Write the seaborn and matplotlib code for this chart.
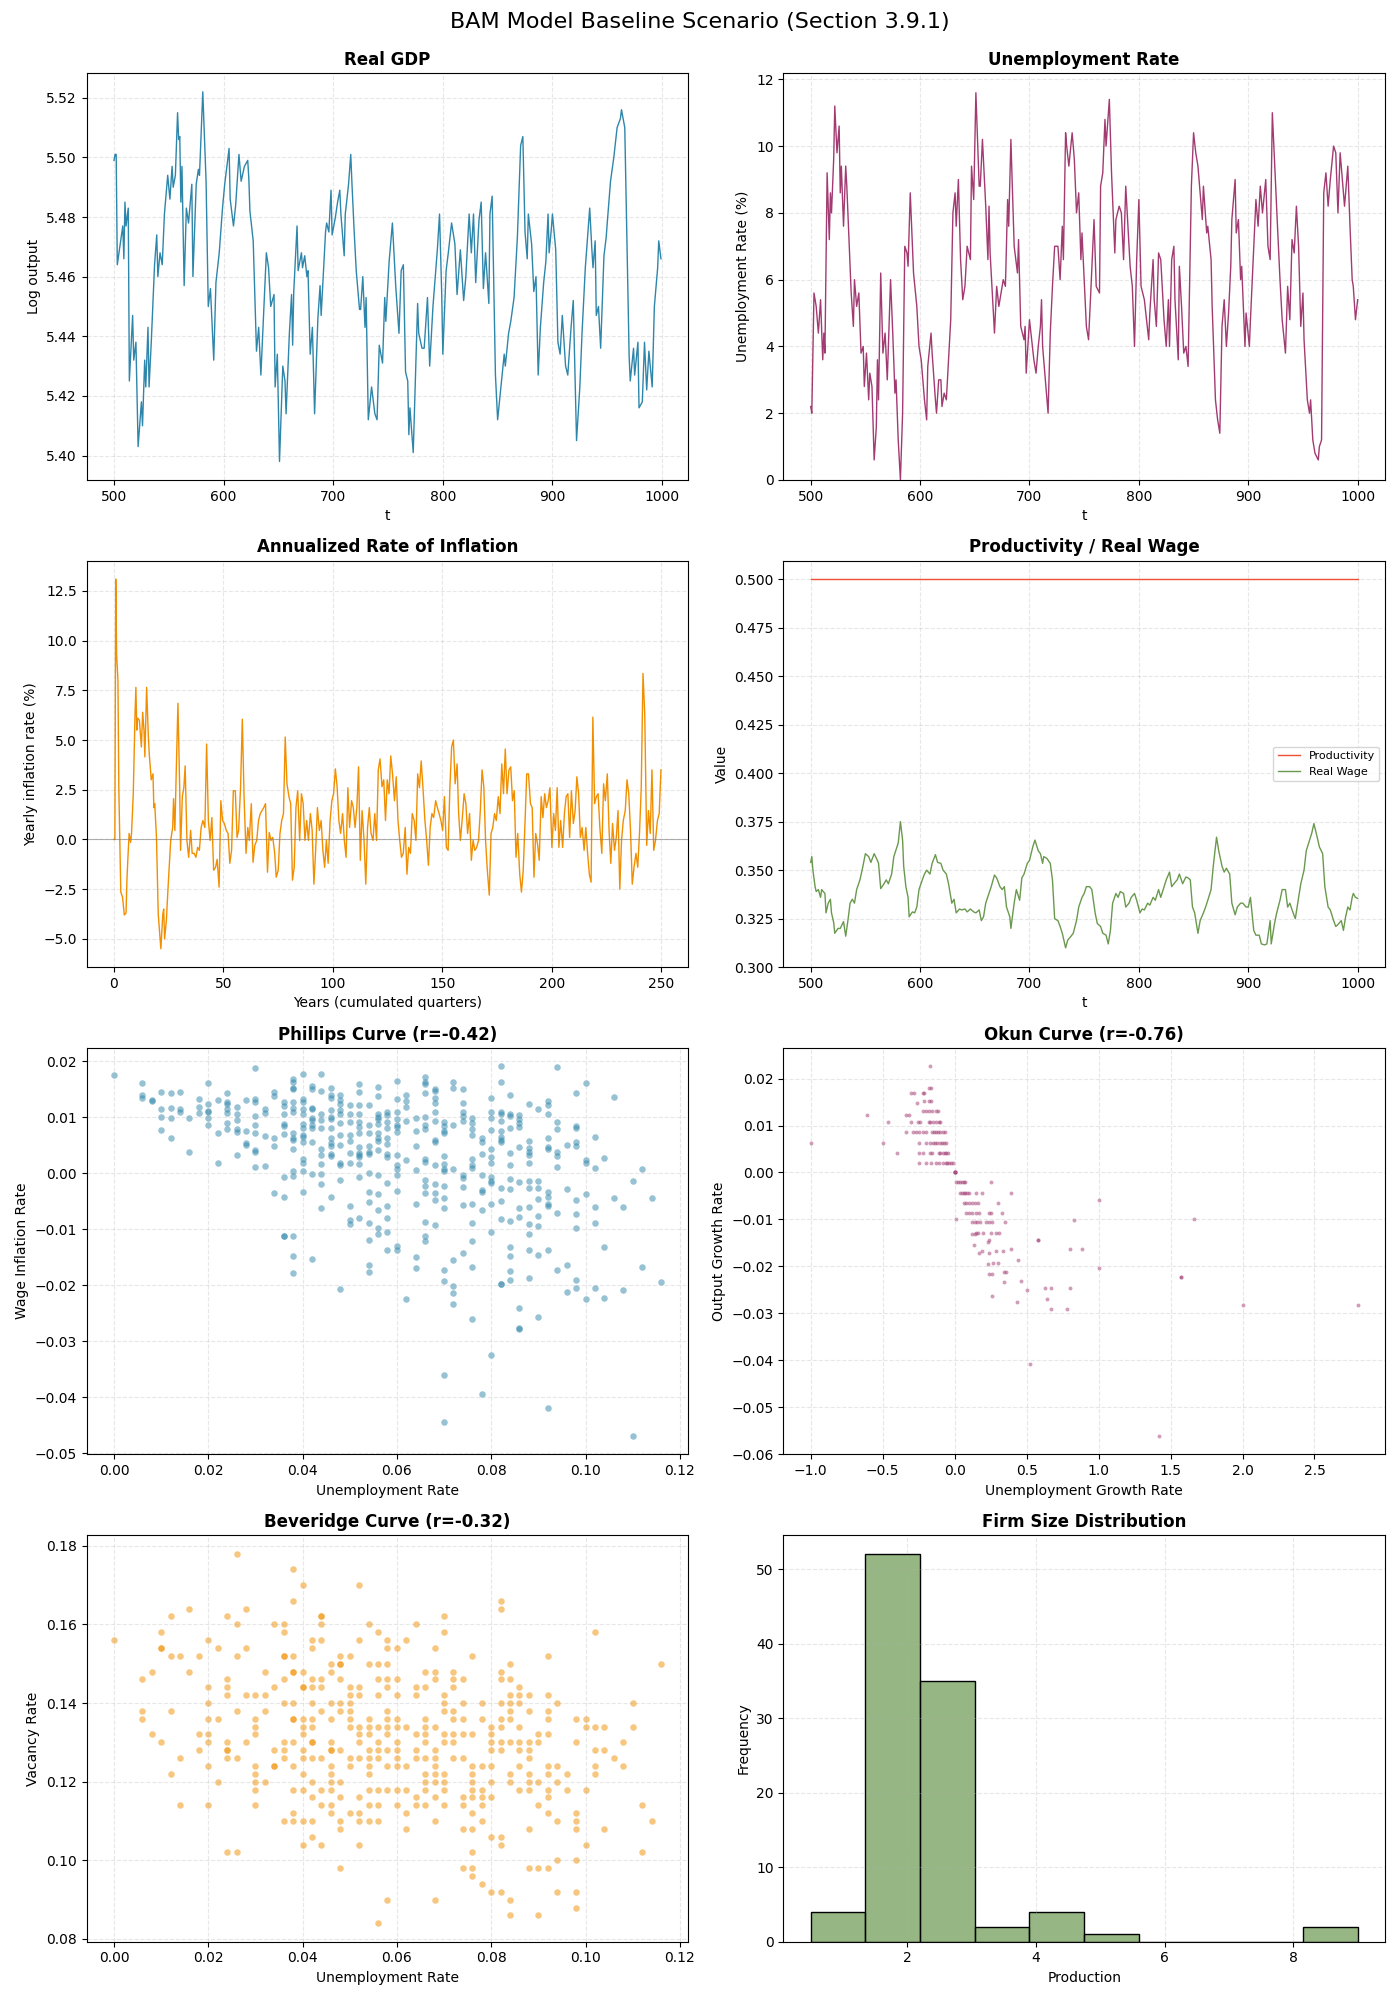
import numpy as np
import matplotlib
matplotlib.use('Agg')
import matplotlib.pyplot as plt
import seaborn as sns

# Colours used across the panels
gdp_color = '#2E86AB'
unemp_color = '#A23B72'
infl_color = '#F18F01'
prod_color = '#F04E33'
wage_color = '#6A994E'

# ---------------- Real GDP (log output), turning points
gdp_t = [500, 501, 502, 503, 508, 509, 510, 511, 513, 514,
         517, 518, 520, 522, 525, 526, 528, 529, 531, 532,
         534, 537, 539, 540, 542, 544, 546, 549, 551, 553,
         554, 556, 558, 559, 560, 561, 562, 564, 566, 568,
         571, 572, 575, 577, 578, 581, 584, 586, 588, 591,
         593, 596, 599, 601, 605, 606, 609, 611, 614, 616,
         619, 622, 623, 624, 627, 630, 632, 634, 639, 641,
         643, 646, 647, 649, 651, 654, 656, 657, 660, 662,
         663, 664, 667, 668, 671, 672, 674, 676, 677, 679,
         681, 683, 686, 688, 689, 693, 694, 696, 698, 699,
         702, 704, 706, 707, 710, 711, 714, 716, 717, 719,
         721, 724, 725, 727, 729, 730, 732, 735, 738, 740,
         742, 745, 747, 748, 751, 754, 757, 760, 762, 764,
         766, 768, 769, 770, 773, 777, 778, 781, 783, 786,
         788, 791, 795, 797, 799, 800, 803, 805, 808, 811,
         813, 816, 819, 821, 824, 826, 828, 830, 833, 835,
         837, 839, 842, 843, 845, 848, 850, 853, 856, 857,
         860, 862, 865, 868, 871, 873, 875, 877, 878, 881,
         883, 885, 887, 889, 892, 894, 896, 897, 899, 900,
         903, 905, 907, 909, 912, 914, 917, 919, 922, 925,
         927, 930, 932, 934, 936, 937, 939, 940, 942, 944,
         947, 949, 950, 953, 956, 959, 962, 963, 965, 966,
         970, 971, 974, 975, 978, 979, 982, 984, 986, 988,
         991, 993, 996, 997, 999]
gdp_log = [5.499, 5.501, 5.501, 5.464, 5.477, 5.466, 5.485, 5.477, 5.483, 5.425,
           5.447, 5.432, 5.438, 5.403, 5.418, 5.410, 5.432, 5.423, 5.443, 5.423,
           5.438, 5.464, 5.474, 5.460, 5.468, 5.464, 5.481, 5.494, 5.486, 5.497,
           5.490, 5.494, 5.515, 5.506, 5.507, 5.485, 5.497, 5.457, 5.483, 5.478,
           5.491, 5.460, 5.491, 5.496, 5.494, 5.522, 5.492, 5.450, 5.456, 5.432,
           5.458, 5.468, 5.483, 5.491, 5.503, 5.486, 5.477, 5.484, 5.501, 5.492,
           5.497, 5.499, 5.493, 5.482, 5.472, 5.435, 5.443, 5.427, 5.468, 5.463,
           5.450, 5.454, 5.423, 5.434, 5.398, 5.430, 5.425, 5.414, 5.441, 5.454,
           5.437, 5.455, 5.477, 5.462, 5.468, 5.463, 5.467, 5.460, 5.462, 5.434,
           5.443, 5.414, 5.446, 5.457, 5.447, 5.475, 5.478, 5.475, 5.489, 5.474,
           5.480, 5.485, 5.489, 5.481, 5.467, 5.481, 5.491, 5.501, 5.492, 5.476,
           5.462, 5.449, 5.449, 5.460, 5.443, 5.453, 5.412, 5.423, 5.414, 5.412,
           5.437, 5.431, 5.453, 5.445, 5.465, 5.478, 5.457, 5.441, 5.462, 5.464,
           5.428, 5.425, 5.407, 5.416, 5.401, 5.451, 5.441, 5.436, 5.436, 5.453,
           5.430, 5.450, 5.469, 5.481, 5.454, 5.434, 5.462, 5.468, 5.478, 5.471,
           5.454, 5.469, 5.452, 5.460, 5.481, 5.468, 5.481, 5.458, 5.479, 5.485,
           5.456, 5.468, 5.451, 5.481, 5.487, 5.427, 5.412, 5.423, 5.434, 5.430,
           5.441, 5.445, 5.453, 5.473, 5.504, 5.507, 5.475, 5.466, 5.481, 5.471,
           5.455, 5.460, 5.427, 5.443, 5.458, 5.465, 5.481, 5.468, 5.476, 5.481,
           5.469, 5.438, 5.434, 5.447, 5.430, 5.427, 5.443, 5.452, 5.405, 5.423,
           5.441, 5.463, 5.473, 5.483, 5.469, 5.463, 5.472, 5.447, 5.450, 5.436,
           5.467, 5.473, 5.478, 5.492, 5.500, 5.510, 5.513, 5.516, 5.512, 5.510,
           5.433, 5.425, 5.436, 5.427, 5.438, 5.416, 5.418, 5.438, 5.422, 5.435,
           5.423, 5.450, 5.463, 5.472, 5.466]

# ---------------- Unemployment rate (%)
unemp_t = [500, 501, 503, 505, 507, 509, 511, 512, 513, 515,
           517, 518, 519, 521, 522, 524, 526, 527, 528, 530,
           532, 533, 537, 539, 540, 542, 544, 546, 548, 549,
           551, 553, 554, 556, 558, 560, 561, 562, 564, 566,
           568, 570, 573, 575, 577, 578, 580, 582, 584, 586,
           588, 589, 591, 593, 594, 597, 599, 601, 602, 604,
           606, 607, 610, 611, 614, 615, 617, 619, 620, 622,
           624, 626, 628, 630, 632, 633, 635, 637, 639, 641,
           643, 646, 647, 649, 651, 654, 655, 657, 660, 662,
           663, 664, 668, 670, 672, 674, 676, 678, 680, 681,
           683, 686, 689, 690, 692, 695, 696, 697, 700, 704,
           706, 708, 710, 711, 712, 715, 717, 719, 721, 723,
           726, 728, 730, 731, 733, 734, 736, 739, 741, 743,
           745, 747, 748, 752, 754, 756, 759, 761, 764, 765,
           767, 769, 770, 773, 775, 778, 779, 782, 784, 786,
           788, 790, 792, 794, 796, 798, 800, 802, 805, 807,
           809, 810, 813, 814, 816, 818, 820, 823, 825, 827,
           828, 830, 832, 833, 836, 837, 839, 841, 843, 845,
           848, 850, 852, 854, 856, 858, 859, 862, 863, 866,
           867, 870, 872, 874, 876, 878, 880, 882, 884, 885,
           888, 889, 891, 893, 894, 897, 898, 901, 902, 905,
           907, 909, 911, 913, 916, 918, 920, 922, 925, 927,
           929, 931, 934, 936, 938, 940, 942, 944, 946, 948,
           950, 951, 954, 956, 957, 959, 961, 964, 965, 967,
           969, 971, 973, 975, 978, 980, 982, 984, 987, 988,
           991, 993, 995, 996, 998, 1000]
unemp_rate = [2.2, 2.0, 5.6, 5.2, 4.4, 5.4, 3.6, 4.4, 3.8, 9.2,
              7.2, 8.6, 8.0, 9.6, 11.2, 9.8, 10.6, 8.6, 9.4, 7.6,
              9.4, 8.8, 5.6, 4.6, 6.0, 5.2, 5.6, 3.8, 4.0, 2.8,
              3.8, 2.4, 3.2, 2.8, 0.6, 1.6, 3.6, 2.4, 6.2, 3.8,
              4.4, 3.0, 6.0, 4.4, 2.6, 3.0, 1.2, 0.0, 2.0, 7.0,
              6.8, 6.4, 8.6, 7.0, 6.2, 5.2, 4.0, 3.6, 3.2, 2.4,
              1.8, 3.4, 4.4, 3.8, 2.4, 2.0, 3.0, 3.0, 2.2, 2.6,
              2.4, 3.6, 4.8, 8.0, 8.6, 7.6, 9.0, 6.6, 5.4, 5.8,
              7.0, 6.6, 9.4, 8.4, 11.6, 8.8, 8.8, 10.2, 8.2, 6.6,
              8.2, 6.8, 4.4, 5.8, 5.2, 5.6, 6.0, 5.8, 8.4, 7.6,
              10.2, 7.0, 6.2, 7.2, 4.6, 4.2, 4.6, 3.2, 4.8, 3.6,
              3.2, 4.0, 4.6, 5.4, 4.0, 2.8, 2.0, 4.4, 5.8, 7.0,
              7.0, 6.0, 7.6, 6.6, 10.4, 10.0, 9.4, 10.4, 9.6, 8.0,
              8.6, 6.6, 7.4, 4.6, 4.2, 5.6, 7.8, 5.8, 5.6, 8.8,
              9.2, 10.8, 10.0, 11.4, 9.2, 6.8, 7.8, 8.2, 8.0, 6.6,
              8.8, 7.6, 6.4, 5.8, 4.0, 6.6, 8.4, 5.8, 5.4, 4.8,
              4.2, 5.0, 6.6, 5.4, 4.6, 6.8, 6.6, 4.8, 4.0, 5.4,
              4.0, 6.6, 7.0, 5.4, 3.6, 6.4, 5.2, 3.8, 4.0, 3.4,
              8.8, 10.4, 9.8, 9.4, 8.6, 7.8, 8.8, 7.4, 7.6, 6.6,
              5.2, 2.4, 1.8, 1.4, 4.6, 5.4, 4.0, 5.0, 6.4, 7.8,
              9.0, 7.4, 7.8, 6.0, 6.4, 4.0, 5.0, 4.0, 4.8, 7.0,
              8.4, 7.6, 8.8, 8.0, 9.0, 7.0, 6.6, 11.0, 8.8, 7.4,
              6.0, 4.8, 3.8, 5.8, 4.8, 7.2, 6.8, 8.2, 7.0, 4.6,
              5.6, 4.2, 2.4, 2.0, 2.4, 1.2, 0.8, 0.6, 1.0, 1.2,
              8.6, 9.2, 8.2, 9.0, 10.0, 9.8, 8.0, 9.8, 8.6, 8.2,
              9.4, 7.6, 6.0, 5.8, 4.8, 5.4]

# ---------------- Annualized inflation (%) against years
infl_years = [0.0, 0.4, 0.8, 1.2, 1.8, 2.2, 3.1, 3.9, 4.7, 5.5,
              5.9, 6.3, 6.9, 7.6, 8.0, 8.8, 9.6, 10.0, 10.4, 10.8,
              11.6, 12.5, 13.1, 13.7, 14.1, 14.9, 15.7, 16.1, 17.0, 17.8,
              18.2, 18.6, 19.4, 20.2, 21.0, 21.4, 22.3, 22.7, 23.1, 23.9,
              24.7, 25.9, 26.8, 27.2, 27.8, 28.4, 29.2, 30.0, 30.4, 31.2,
              31.9, 32.5, 33.3, 34.1, 35.0, 35.7, 36.6, 37.4, 38.2, 39.0,
              39.8, 40.6, 41.5, 42.3, 43.1, 43.9, 44.7, 45.5, 46.4, 47.1,
              48.0, 48.8, 49.6, 50.4, 51.3, 52.1, 52.9, 53.7, 54.5, 55.4,
              56.2, 56.9, 57.8, 58.6, 59.4, 60.3, 61.1, 61.8, 62.7, 63.5,
              64.3, 65.2, 66.0, 66.8, 67.6, 68.4, 69.2, 70.1, 70.9, 71.7,
              72.5, 73.4, 74.1, 75.0, 75.8, 76.6, 77.4, 78.2, 79.0, 79.9,
              80.7, 81.5, 82.3, 83.1, 83.9, 84.8, 85.6, 86.4, 87.2, 88.0,
              88.8, 89.7, 90.5, 91.3, 92.1, 92.9, 93.8, 94.6, 95.4, 96.2,
              97.0, 97.8, 98.7, 99.5, 100.3, 101.1, 101.9, 102.7, 103.5, 104.4,
              105.2, 106.0, 106.8, 107.6, 108.5, 109.3, 110.1, 110.9, 111.7, 112.5,
              113.3, 114.2, 115.0, 115.8, 116.6, 117.4, 118.3, 119.1, 119.9, 120.7,
              121.5, 122.4, 123.2, 124.0, 124.8, 125.6, 126.4, 127.2, 128.1, 128.9,
              129.7, 130.5, 131.3, 132.1, 133.0, 133.8, 134.6, 135.4, 136.2, 137.1,
              137.9, 138.7, 139.5, 140.3, 141.1, 142.0, 142.8, 143.6, 144.4, 145.2,
              146.0, 146.9, 147.7, 148.5, 149.3, 150.1, 150.9, 151.8, 152.6, 153.4,
              154.2, 155.0, 155.8, 156.7, 157.4, 158.2, 159.1, 159.9, 160.7, 161.5,
              162.4, 163.2, 164.0, 164.8, 165.6, 166.5, 167.3, 168.1, 168.9, 169.7,
              170.5, 171.4, 172.2, 173.0, 173.8, 174.6, 175.5, 176.3, 177.1, 177.9,
              178.7, 179.5, 180.4, 181.2, 182.0, 182.8, 183.6, 184.4, 185.3, 186.1,
              186.9, 187.7, 188.5, 189.3, 190.2, 191.0, 191.8, 192.6, 193.4, 194.2,
              195.1, 195.9, 196.7, 197.5, 198.3, 199.1, 200.0, 200.8, 201.6, 202.4,
              203.2, 204.0, 204.9, 205.7, 206.5, 207.3, 208.1, 208.9, 209.8, 210.6,
              211.4, 212.2, 213.0, 213.8, 214.7, 215.5, 216.3, 217.1, 217.9, 218.7,
              219.5, 220.3, 221.1, 221.9, 222.8, 223.6, 224.4, 225.3, 226.1, 226.9,
              227.7, 228.6, 229.4, 230.2, 231.0, 231.8, 232.6, 233.5, 234.3, 235.1,
              235.9, 236.7, 237.5, 238.4, 239.2, 240.0, 240.8, 241.6, 242.4, 243.3,
              244.1, 244.9, 245.7, 246.5, 247.3, 248.2, 249.0, 249.8]
infl_rate = [0.0, 0.0, 13.1, 9.3, 8.0, 2.6, -2.65, -2.9, -3.8, -3.7,
             -2.05, -1.05, 0.3, -0.15, 0.3, 2.3, 6.3, 7.65, 5.5, 6.1,
             6.0, 4.65, 6.4, 5.5, 4.15, 7.65, 5.15, 4.3, 3.0, 3.3,
             1.6, 1.8, 0.1, -3.75, -4.9, -5.5, -3.75, -3.5, -5.0, -4.1,
             -2.4, -0.05, 0.6, 2.05, 0.45, 3.3, 6.85, 2.6, -0.55, 2.15,
             2.6, 3.7, -0.05, -0.9, 0.45, -0.7, -0.7, -0.9, -0.4, -0.55,
             0.6, 0.95, 0.6, 4.8, 0.95, -0.05, 1.1, -1.55, -1.4, -1.0,
             -2.4, 1.95, 0.95, 0.8, 0.45, 0.3, -1.2, -0.55, 2.45, 2.45,
             0.1, 0.45, 2.6, 6.05, 2.15, -0.7, 0.6, -0.05, 1.8, -1.15,
             -0.3, -0.05, 0.95, 1.3, 1.45, 1.6, 1.8, -1.65, 0.35, -0.05,
             0.1, -0.7, -1.9, -1.55, 0.3, 0.95, 1.3, 5.15, 2.8, 2.15,
             1.8, -2.05, -1.4, 1.6, 2.45, -0.05, 2.3, 1.8, -0.05, 0.95,
             -0.05, 1.3, 0.45, -2.25, -0.55, 1.6, 0.45, 0.95, -0.55, -1.4,
             -0.05, -1.2, 0.95, 1.95, 2.3, 3.55, 2.65, 0.95, 0.3, 1.3,
             -0.05, -0.9, 2.6, 0.6, 1.95, 1.6, 0.6, 1.6, 3.65, -1.05,
             1.45, -0.05, -2.25, 0.6, 1.6, 0.3, -0.05, 1.3, -0.05, 3.5,
             4.05, 2.65, 3.0, 0.95, 3.0, 2.3, 4.2, 3.3, 1.95, 3.15,
             0.95, -0.05, -0.9, -0.7, 0.6, -1.75, -0.4, -0.7, 1.3, 0.95,
             -0.05, 3.3, 2.6, 3.95, 2.6, 0.95, -0.05, -1.3, 0.6, 1.3,
             1.1, 1.95, 1.6, 1.3, 0.95, 0.45, 2.15, -0.4, -0.55, 2.6,
             4.65, 5.0, 2.8, 3.8, 1.3, -0.05, 1.1, 2.3, 1.8, 0.3,
             1.3, -1.05, -0.05, -0.55, -0.4, -0.05, 1.45, 3.5, 2.65, -0.05,
             -1.55, -2.8, 0.3, 0.6, 1.3, 0.95, 2.15, 1.3, 3.8, 2.3,
             4.55, 2.3, 3.5, 3.65, 1.95, 2.45, -0.9, 0.3, -1.75, -2.65,
             -1.55, 0.8, 3.3, 3.3, 1.8, 1.6, -1.9, 0.3, -0.2, -1.05,
             2.15, 1.1, 2.3, 1.6, 1.95, 2.6, -0.4, 1.3, 0.45, 2.6,
             -0.4, 0.95, -0.4, 1.3, 2.15, 2.3, 0.1, 2.45, 0.8, 1.45,
             3.15, 2.3, 0.1, 0.6, -0.55, 0.6, -0.7, -1.75, -2.15, 6.15,
             1.8, 2.15, 2.3, 0.6, -0.7, 2.8, 1.95, 3.3, 0.45, -1.2,
             0.8, -0.55, 0.1, 1.45, -2.5, -0.05, 0.95, 1.45, 3.0, 2.3,
             0.45, -2.25, -1.4, -0.7, -1.4, 0.3, 2.6, 8.35, 6.3, -0.3,
             1.45, 0.3, 3.5, -0.55, -0.05, 0.95, 1.3, 3.5]

# ---------------- Productivity / real wage
prod_t = [500, 1000]
prod_val = [0.5, 0.5]
wage_t = [500, 501, 502, 504, 505, 507, 509, 510, 513, 514,
          516, 518, 519, 521, 522, 525, 527, 530, 532, 534,
          536, 538, 540, 542, 545, 547, 550, 553, 555, 558,
          561, 562, 564, 567, 569, 571, 574, 576, 580, 582,
          584, 585, 587, 589, 590, 593, 595, 597, 599, 602,
          604, 606, 609, 611, 614, 616, 619, 621, 624, 626,
          629, 631, 633, 636, 638, 641, 643, 646, 649, 651,
          654, 656, 658, 660, 663, 665, 668, 670, 673, 675,
          677, 679, 682, 683, 686, 688, 691, 693, 695, 698,
          700, 703, 705, 708, 710, 712, 713, 716, 719, 721,
          723, 726, 728, 730, 733, 735, 738, 740, 743, 745,
          748, 750, 752, 755, 757, 760, 762, 765, 767, 770,
          772, 774, 776, 779, 781, 783, 786, 788, 791, 793,
          796, 798, 801, 803, 805, 808, 810, 813, 815, 818,
          820, 823, 825, 828, 830, 832, 835, 837, 840, 843,
          845, 847, 849, 851, 854, 856, 859, 861, 863, 866,
          868, 871, 873, 876, 878, 880, 883, 885, 888, 890,
          893, 895, 898, 900, 902, 905, 907, 910, 912, 915,
          917, 920, 921, 924, 926, 929, 931, 934, 936, 938,
          941, 943, 946, 948, 951, 953, 956, 958, 960, 963,
          965, 968, 970, 973, 975, 978, 980, 982, 985, 987,
          989, 991, 993, 995, 996, 998, 1000]
wage_val = [0.354, 0.357, 0.350, 0.3415, 0.339, 0.340, 0.336, 0.340, 0.338, 0.328,
            0.333, 0.335, 0.328, 0.323, 0.3175, 0.320, 0.320, 0.3235, 0.316, 0.324,
            0.333, 0.335, 0.333, 0.340, 0.345, 0.350, 0.3585, 0.357, 0.354, 0.3585,
            0.355, 0.3535, 0.3405, 0.343, 0.345, 0.343, 0.348, 0.357, 0.364, 0.375,
            0.3655, 0.352, 0.3415, 0.336, 0.326, 0.3285, 0.328, 0.331, 0.340, 0.345,
            0.348, 0.350, 0.348, 0.3535, 0.358, 0.354, 0.3535, 0.350, 0.348, 0.343,
            0.333, 0.335, 0.328, 0.330, 0.3295, 0.330, 0.3285, 0.330, 0.3285, 0.328,
            0.3295, 0.324, 0.326, 0.333, 0.338, 0.3415, 0.3475, 0.346, 0.3415, 0.340,
            0.3415, 0.331, 0.326, 0.320, 0.333, 0.340, 0.3345, 0.346, 0.348, 0.3535,
            0.355, 0.362, 0.3655, 0.360, 0.3585, 0.3535, 0.357, 0.356, 0.3535, 0.345,
            0.325, 0.324, 0.321, 0.3175, 0.310, 0.314, 0.316, 0.3175, 0.324, 0.331,
            0.336, 0.338, 0.3415, 0.3415, 0.340, 0.328, 0.3225, 0.321, 0.3175, 0.3165,
            0.312, 0.319, 0.333, 0.338, 0.336, 0.339, 0.338, 0.331, 0.333, 0.336,
            0.338, 0.3345, 0.328, 0.330, 0.3295, 0.333, 0.332, 0.336, 0.3345, 0.340,
            0.336, 0.3415, 0.345, 0.349, 0.3415, 0.343, 0.345, 0.348, 0.343, 0.3465,
            0.346, 0.345, 0.331, 0.328, 0.3175, 0.324, 0.328, 0.331, 0.3345, 0.340,
            0.352, 0.367, 0.360, 0.352, 0.349, 0.351, 0.348, 0.333, 0.327, 0.331,
            0.333, 0.333, 0.331, 0.331, 0.336, 0.319, 0.3165, 0.3165, 0.312, 0.3115,
            0.312, 0.324, 0.312, 0.3225, 0.328, 0.3345, 0.340, 0.340, 0.331, 0.333,
            0.328, 0.325, 0.336, 0.343, 0.350, 0.360, 0.3655, 0.369, 0.374, 0.367,
            0.362, 0.3585, 0.3415, 0.331, 0.3295, 0.324, 0.321, 0.322, 0.324, 0.319,
            0.326, 0.331, 0.3295, 0.336, 0.338, 0.336, 0.3355]

# ---------------- Scatter panels: unemployment rate columns shared by Phillips and Beveridge
unemp_levels = [0.000, 0.006, 0.008, 0.010, 0.012, 0.014, 0.016, 0.018, 0.020, 0.022,
                0.024, 0.026, 0.028, 0.030, 0.032, 0.034, 0.036, 0.038, 0.040, 0.042,
                0.044, 0.046, 0.048, 0.050, 0.052, 0.054, 0.056, 0.058, 0.060, 0.062,
                0.064, 0.066, 0.068, 0.070, 0.072, 0.074, 0.076, 0.078, 0.080, 0.082,
                0.084, 0.086, 0.088, 0.090, 0.092, 0.094, 0.096, 0.098, 0.100, 0.102,
                0.104, 0.106, 0.108, 0.110, 0.112, 0.114, 0.116]

# wage inflation in units of 1e-3, one list per unemployment column
phillips_wage_cols = [
    [17.5],
    [16.1, 14.0, 13.4],
    [13.0, 12.9],
    [14.5, 11.5, 10.0, 7.7],
    [14.3, 11.7, 9.9, 6.3],
    [14.5, 11.4, 11.0],
    [9.9, 3.8],
    [13.3, 11.8, 10.8],
    [16.1, 12.4, 11.2, 11.0, 9.9, 8.6],
    [13.1, 7.2, 1.8],
    [14.3, 12.8, 12.4, 11.4, 10.8, 9.0, 7.9],
    [11.8, 10.6, 9.6, 7.9, 7.4, 3.3],
    [13.1, 7.6, 5.4, 5.1],
    [18.8, 13.3, 12.8, 10.2, 8.6, 7.2, 4.2, 3.8, 1.1],
    [11.4, 10.8, 6.7, 1.3],
    [14.5, 13.8, 6.3, 4.9, -3.5],
    [12.7, 12.0, 10.6, 8.8, 8.5, 7.0, -0.7, -4.2, -11.2, -11.2],
    [16.9, 16.3, 15.2, 15.0, 12.7, 11.6, 10.9, 7.2, 6.3, 5.9, 4.3, 0.4, -0.5, -11.2, -14.7, -17.8],
    [17.7, 13.3, 12.8, 11.4, 10.6, 8.8, 8.1, 6.8, 6.5, 5.6, 2.6, 1.8, 0.4, -3.3],
    [15.6, 15.0, 11.7, 11.4, 9.9, 9.5, 8.6, 8.1, 5.6, -0.1, -15.3],
    [17.7, 14.7, 10.6, 9.6, 8.1, 4.3, 3.3, 1.6, -0.2, -1.9, -6.2],
    [15.2, 14.0, 13.4, 11.3, 10.0, 9.7, 8.0, 6.3, 5.4, 4.8, 3.4, 3.1, -4.3],
    [14.0, 13.1, 12.4, 11.3, 10.6, 9.0, 6.8, 5.1, 1.8, 1.5, -1.2, -20.6],
    [12.2, 10.6, 9.2, 6.8, 5.8, 3.6, 1.8, -5.8, -8.3, -9.0],
    [15.9, 14.5, 12.2, 10.6, 9.2, 8.3, 7.2, 4.7, 3.6, 3.3, 2.9, 1.7, -0.7, -8.0],
    [12.2, 8.6, 7.2, 4.9, 3.8, 3.4, 0.1, -3.3, -5.1, -8.9, -11.9, -16.3, -17.6],
    [15.4, 13.8, 10.6, 10.0, 9.7, 8.8, 7.2, 6.3, 5.8, 4.2, -0.3, -3.7, -6.5, -9.8, -10.8],
    [10.9, 10.4, 9.2, 8.1, 6.3, 5.2, 3.4, 2.9, -1.7, -5.8, -8.0, -10.5, -13.7],
    [16.5, 13.3, 10.9, 9.7, 8.6, 8.3, 7.4, 3.3, 1.5, 0.8, -0.3, -3.2, -13.0, -13.7],
    [14.0, 12.9, 11.8, 9.3, 2.4, -22.4],
    [9.9, 7.6, 4.9, 0.5, -5.5, -14.9, -16.9],
    [17.2, 16.3, 15.9, 14.3, 10.0, 8.6, 7.9, 2.6, 2.0, -1.2, -2.3, -3.5, -8.7, -11.2, -12.1],
    [15.0, 14.7, 13.4, 12.5, 10.9, 9.3, 5.9, 5.6, 1.5, -1.9, -3.5, -4.8, -9.2],
    [9.2, 8.4, 7.6, 7.2, 3.1, 1.7, 0.8, 0.4, -2.3, -4.4, -6.2, -17.3, -19.2, -36.1, -44.4],
    [16.3, 15.2, 8.6, 0.8, -15.5, -20.1, -21.3, -23.3],
    [15.0, 12.5, 10.9, 10.2, 9.3, -0.3, -0.8, -2.4, -5.6, -14.2],
    [9.9, 9.0, 7.9, 6.8, 2.6, 1.5, 1.0, -5.5, -8.9, -12.1, -16.7, -26.0],
    [6.3, 5.6, 3.4, -0.3, -3.0, -3.3, -6.5, -39.4],
    [13.4, 10.9, 9.9, 7.7, 4.3, 2.9, 1.8, -0.7, -1.4, -1.7, -5.5, -10.5, -32.4],
    [19.1, 16.3, 10.9, 10.6, 9.3, 7.6, 6.5, 5.9, 5.6, -2.6, -4.9, -8.1, -19.7, -19.7],
    [14.0, 10.6, 10.2, 8.1, 3.6, 1.5, -1.0, -2.8, -8.5, -13.1, -14.7, -17.4, -19.0],
    [10.4, 9.7, 9.0, 8.3, 4.7, -1.5, -6.2, -7.8, -24.0, -27.6, -27.8],
    [12.4, 5.8, 4.5, 3.8, 3.3, 1.8, -1.4, -2.6, -6.0, -9.0, -10.8, -13.7, -18.7],
    [11.5, -1.4, -2.6, -4.6, -7.6, -9.4, -14.6, -25.6],
    [12.9, 12.2, 10.6, 6.3, 4.7, 4.3, -3.3, -4.2, -5.5, -5.8, -13.7, -41.9],
    [19.0, 9.2, 7.9, 3.8, 3.1, 1.1, -7.1, -17.2],
    [5.1, -2.8, -16.3, -21.2],
    [14.3, 8.4, 8.1, 5.6, 4.9, -4.8, -7.3, -9.8, -19.0, -20.5],
    [16.1, 2.4, 1.8, -3.7, -22.4],
    [6.5, 1.0, -6.0, -8.9, -20.5],
    [2.7, -13.1, -22.2],
    [13.6, -4.4],
    [-6.0, -20.8],
    [-1.4, -46.9],
    [0.8, -16.7],
    [-4.4],
    [-19.4],
]

beveridge_vac_cols = [
    [.156],
    [.146, .138, .136],
    [.148, .132],
    [.158, .154, .154, .130],
    [.162, .152, .138, .122],
    [.152, .126, .114],
    [.164, .148],
    [.152, .132, .128],
    [.156, .144, .140, .136, .132, .130, .124, .114],
    [.154, .136, .120],
    [.162, .146, .144, .142, .130, .128, .128, .126, .102],
    [.178, .160, .152, .138, .126, .102],
    [.164, .154, .142, .130],
    [.142, .136, .134, .132, .124, .122, .120, .118, .114],
    [.148, .142, .138, .120],
    [.160, .144, .128, .124, .124],
    [.160, .158, .152, .152, .146, .140, .130, .128, .126, .110],
    [.174, .166, .152, .148, .148, .140, .136, .136, .130, .124, .118, .112, .110],
    [.170, .148, .144, .144, .136, .134, .132, .128, .126, .122, .118, .110, .104],
    [.156, .154, .146, .144, .140, .136, .134, .130, .130, .126, .120, .116, .110, .106],
    [.162, .162, .160, .156, .146, .144, .138, .126, .118, .114, .104],
    [.150, .148, .140, .136, .130, .128, .128, .124, .122, .120, .118, .114, .112],
    [.152, .150, .150, .146, .140, .138, .128, .120, .116, .110, .108, .098],
    [.152, .144, .142, .140, .138, .136, .134, .126, .124, .112],
    [.170, .156, .144, .142, .134, .132, .130, .126, .116, .112, .110, .104],
    [.160, .150, .136, .134, .132, .128, .126, .124, .122, .118, .114, .110],
    [.158, .150, .146, .142, .134, .130, .128, .126, .118, .114, .110, .084],
    [.156, .154, .150, .146, .144, .138, .136, .134, .132, .128, .124, .118, .090],
    [.154, .146, .142, .136, .134, .130, .128, .126, .124, .118, .114],
    [.156, .134, .124, .118, .112, .108],
    [.160, .144, .142, .132, .128, .126, .116, .114],
    [.148, .144, .136, .134, .132, .130, .126, .122, .120, .118, .114],
    [.154, .148, .146, .134, .128, .126, .124, .122, .120, .116, .110, .090],
    [.162, .158, .142, .140, .138, .132, .130, .122, .120, .118, .114],
    [.148, .146, .144, .138, .136, .132, .130, .126],
    [.146, .140, .136, .132, .126, .116, .114, .108, .098],
    [.152, .132, .124, .122, .120, .118, .116, .112, .108, .102, .098, .096],
    [.140, .136, .124, .118, .116, .114, .110, .094],
    [.134, .132, .130, .128, .124, .120, .116, .106, .092],
    [.166, .164, .148, .146, .140, .136, .134, .130, .128, .106, .104, .092],
    [.150, .146, .142, .140, .138, .136, .130, .122, .120, .090, .086],
    [.144, .142, .140, .134, .130, .128, .124, .118],
    [.142, .138, .130, .128, .126, .122, .120, .118, .108, .098],
    [.132, .130, .120, .114, .098, .086],
    [.152, .142, .138, .136, .132, .124, .122, .118, .116, .112, .098],
    [.140, .124, .120, .110, .100, .092],
    [.122, .118],
    [.136, .130, .112, .110, .108, .100, .092, .088],
    [.136, .134, .118, .104],
    [.158, .134, .128, .124, .122],
    [.134, .128, .108],
    [.126],
    [.130, .124],
    [.140, .134],
    [.114, .102],
    [.110],
    [.150],
]

# ---------------- Okun curve: output growth rows and the unemployment growth values on each row
okun_output_levels = [0.0226, 0.0179, 0.0170, 0.0153, 0.0148, 0.0130, 0.0123, 0.0108,
                      0.0087, 0.0063, 0.0042, 0.0021, 0.0,
                      -0.0021, -0.0043, -0.0059, -0.0064, -0.0087, -0.0099, -0.0101,
                      -0.0105, -0.0128, -0.0131, -0.0143, -0.0149, -0.0154, -0.0163,
                      -0.0167, -0.0172, -0.0186, -0.0192, -0.0195, -0.0204, -0.0212,
                      -0.0217, -0.0223, -0.0231, -0.0234, -0.0246, -0.0251, -0.0263,
                      -0.0270, -0.0276, -0.0282, -0.0291, -0.0407, -0.0561]
okun_unemp_rows = [
    [-0.174],
    [-0.177, -0.165],
    [-0.30, -0.285, -0.22, -0.21],
    [-0.21, -0.177, -0.165],
    [-0.26],
    [-0.22, -0.20, -0.175, -0.155, -0.13, -0.115],
    [-0.61, -0.335, -0.32],
    [-0.46, -0.30, -0.255, -0.24, -0.18, -0.17, -0.15, -0.13, -0.11, -0.10],
    [-0.335, -0.29, -0.27, -0.25, -0.22, -0.20, -0.16, -0.146, -0.13, -0.115, -0.10, -0.084, -0.07],
    [-1.0, -0.50, -0.25, -0.20, -0.17, -0.15, -0.137, -0.12, -0.105, -0.09, -0.075, -0.062],
    [-0.40, -0.25, -0.22, -0.17, -0.16, -0.11, -0.10, -0.084, -0.07, -0.06, -0.047],
    [-0.25, -0.20, -0.165, -0.13, -0.11, -0.084, -0.062, -0.05, -0.037, -0.025, -0.012],
    [0.0, 0.0, 0.0, 0.0, 0.0],
    [0.012, 0.025, 0.037, 0.05, 0.062, 0.074, 0.25],
    [0.037, 0.05, 0.062, 0.074, 0.087, 0.10, 0.15, 0.19, 0.39],
    [1.0],
    [0.062, 0.08, 0.10, 0.124, 0.143, 0.16, 0.30],
    [0.08, 0.10, 0.118, 0.15, 0.168, 0.236, 0.254, 0.33],
    [0.006, 1.66],
    [0.83],
    [0.118, 0.14, 0.155, 0.174, 0.217, 0.236, 0.258, 0.35],
    [0.15, 0.16, 0.20, 0.254, 0.29, 0.31],
    [0.124, 0.14],
    [0.58, 0.58, 0.236],
    [0.233],
    [0.137],
    [0.80, 0.885, 0.39],
    [0.19, 0.29, 0.335],
    [0.168, 0.24],
    [0.44],
    [0.267, 0.30],
    [0.233],
    [1.0],
    [0.34, 0.354],
    [0.24, 0.258],
    [1.57, 1.57],
    [0.46],
    [0.34],
    [0.63, 0.67, 0.80],
    [0.505],
    [0.258],
    [0.645],
    [0.43],
    [2.0, 2.8],
    [0.67, 0.78],
    [0.525],
    [1.42],
]

# ---------------- Firm size distribution: histogram counts over 10 equal bins
firm_prod_min = 0.5
firm_prod_max = 9.0
firm_counts = [4, 52, 35, 2, 4, 1, 0, 0, 0, 2]

assert len(gdp_t) == len(gdp_log)
assert len(unemp_t) == len(unemp_rate)
assert len(infl_years) == len(infl_rate)
assert len(wage_t) == len(wage_val)
assert len(unemp_levels) == len(phillips_wage_cols) == len(beveridge_vac_cols)
assert len(okun_output_levels) == len(okun_unemp_rows)

# flatten the column-wise scatter data
phil_u, phil_w, bev_u, bev_v = [], [], [], []
for u, ws, vs in zip(unemp_levels, phillips_wage_cols, beveridge_vac_cols):
    phil_u += [u] * len(ws)
    phil_w += [w / 1000 for w in ws]
    bev_u += [u] * len(vs)
    bev_v += vs
okun_u, okun_y = [], []
for y, xs in zip(okun_output_levels, okun_unemp_rows):
    okun_u += xs
    okun_y += [y] * len(xs)

# ---------------- Figure
fig, axes = plt.subplots(4, 2, figsize=(14, 20))

def style(ax, title, xlabel, ylabel):
    ax.set_title(title, fontsize=12, fontweight='bold')
    ax.set_xlabel(xlabel)
    ax.set_ylabel(ylabel)
    ax.grid(True, linestyle='--', alpha=0.3)

# Real GDP
ax = axes[0, 0]
sns.lineplot(x=gdp_t, y=gdp_log, ax=ax, color=gdp_color, linewidth=1,
             estimator=None, sort=False)
style(ax, 'Real GDP', 't', 'Log output')

# Unemployment
ax = axes[0, 1]
sns.lineplot(x=unemp_t, y=unemp_rate, ax=ax, color=unemp_color, linewidth=1,
             estimator=None, sort=False)
ax.set_ylim(bottom=0)
style(ax, 'Unemployment Rate', 't', 'Unemployment Rate (%)')

# Inflation
ax = axes[1, 0]
sns.lineplot(x=infl_years, y=infl_rate, ax=ax, color=infl_color, linewidth=1,
             estimator=None, sort=False)
ax.axhline(0, color='gray', linewidth=0.8, alpha=0.6)
style(ax, 'Annualized Rate of Inflation', 'Years (cumulated quarters)',
      'Yearly inflation rate (%)')

# Productivity / real wage
ax = axes[1, 1]
sns.lineplot(x=prod_t, y=prod_val, ax=ax, color=prod_color, linewidth=1,
             label='Productivity', estimator=None, sort=False)
sns.lineplot(x=wage_t, y=wage_val, ax=ax, color=wage_color, linewidth=1,
             label='Real Wage', estimator=None, sort=False)
ax.set_ylim(bottom=0.3)
ax.legend(loc='center right', fontsize=8)
style(ax, 'Productivity / Real Wage', 't', 'Value')

# Phillips curve
ax = axes[2, 0]
sns.scatterplot(x=phil_u, y=phil_w, ax=ax, color=gdp_color, alpha=0.5,
                s=22, linewidth=0)
style(ax, 'Phillips Curve (r=-0.42)', 'Unemployment Rate', 'Wage Inflation Rate')

# Okun curve
ax = axes[2, 1]
sns.scatterplot(x=okun_u, y=okun_y, ax=ax, color=unemp_color, alpha=0.5,
                s=8, linewidth=0)
style(ax, 'Okun Curve (r=-0.76)', 'Unemployment Growth Rate', 'Output Growth Rate')

# Beveridge curve
ax = axes[3, 0]
sns.scatterplot(x=bev_u, y=bev_v, ax=ax, color=infl_color, alpha=0.5,
                s=22, linewidth=0)
style(ax, 'Beveridge Curve (r=-0.32)', 'Unemployment Rate', 'Vacancy Rate')

# Firm size distribution
ax = axes[3, 1]
edges = np.linspace(firm_prod_min, firm_prod_max, len(firm_counts) + 1)
centers = list((edges[:-1] + edges[1:]) / 2)
sns.histplot(x=centers, weights=firm_counts, bins=len(firm_counts),
             binrange=(firm_prod_min, firm_prod_max), ax=ax,
             color=wage_color, alpha=0.7, edgecolor='black', linewidth=1)
style(ax, 'Firm Size Distribution', 'Production', 'Frequency')

fig.tight_layout(rect=[0, 0, 1, 0.982])
fig.suptitle('BAM Model Baseline Scenario (Section 3.9.1)', fontsize=16, y=0.994)
fig.savefig('out.png', dpi=100)
